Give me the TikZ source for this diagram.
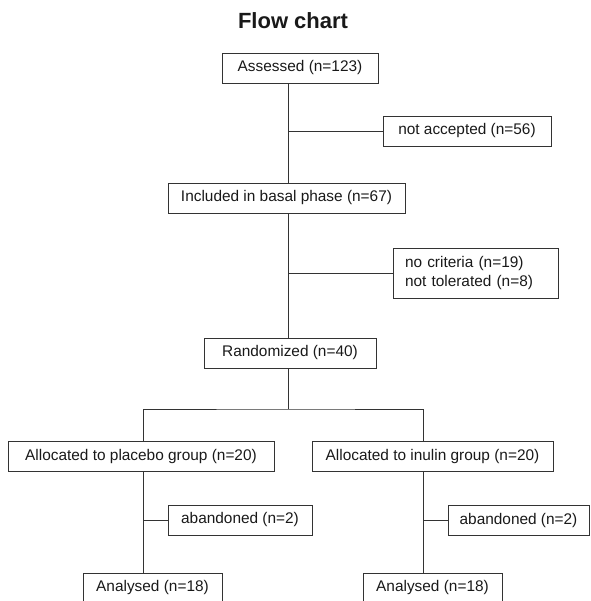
\documentclass[tikz,border=0pt]{standalone}
\usepackage{fontspec}
\setmainfont{Liberation Sans}
\usepackage{tikz}
\usetikzlibrary{calc,positioning}

\begin{document}
\begin{tikzpicture}[x=1pt, y=-1pt, box/.style={draw=black!80, line width=0.9pt, minimum height=30pt, inner sep=0pt,
  text=black!90, font=\fontsize{15.4}{19}\selectfont}, link/.style={draw=black!80, line width=0.9pt}]
  \useasboundingbox (0,0) rectangle (590,601);
  \node[font=\bfseries\fontsize{22}{26}\selectfont, text=black!90] (title) at (293,21) {Flow chart};
  \node[box, minimum width=156pt] (assessed) at (300,68) {Assessed (n=123)};
  \node[box, minimum width=168pt] (notacc) at (467,131) {not accepted (n=56)};
  \node[box, minimum width=237pt] (included) at (286.5,198) {Included in basal phase (n=67)};
  \node[box, minimum height=50pt, text width=141pt, inner xsep=12pt, align=left] (nocrit) at (475.5,273)
    {no criteria (n=19)\\not tolerated (n=8)};
  \node[box, minimum width=172pt] (random) at (290,353) {Randomized (n=40)};
  \node[box, minimum width=266pt] (placebo) at (141,456.5) {Allocated to placebo group (n=20)};
  \node[box, minimum width=241pt] (inulin) at (432.5,456.5) {Allocated to inulin group (n=20)};
  \node[box, minimum width=144pt] (aband1) at (240,520) {abandoned (n=2)};
  \node[box, minimum width=141pt] (aband2) at (518.5,520.5) {abandoned (n=2)};
  \node[box, minimum width=139pt] (analysed1) at (152.5,588) {Analysed (n=18)};
  \node[box, minimum width=139pt] (analysed2) at (432.5,588) {Analysed (n=18)};
  \coordinate (mid) at (288,0);
  \coordinate (lft) at (143,0);
  \coordinate (rgt) at (423.5,0);
  \coordinate (split) at (288,409);
  \draw[link] (assessed.south -| mid) -- (included.north -| mid);
  \draw[link] (included.south -| mid) -- (random.north -| mid);
  \draw[link] (random.south -| mid) -- (split);
  \draw[link] (placebo.north -| lft) |- (split) -| (inulin.north -| rgt);
  \draw[link] (placebo.south -| lft) -- (analysed1.north -| lft);
  \draw[link] (inulin.south -| rgt) -- (analysed2.north -| rgt);
  \draw[link] (notacc.west) -- (notacc.west -| mid);
  \draw[link] (nocrit.west) -- (nocrit.west -| mid);
  \draw[link] (aband1.west) -- (aband1.west -| lft);
  \draw[link] (aband2.west) -- (aband2.west -| rgt);
\end{tikzpicture}
\end{document}
